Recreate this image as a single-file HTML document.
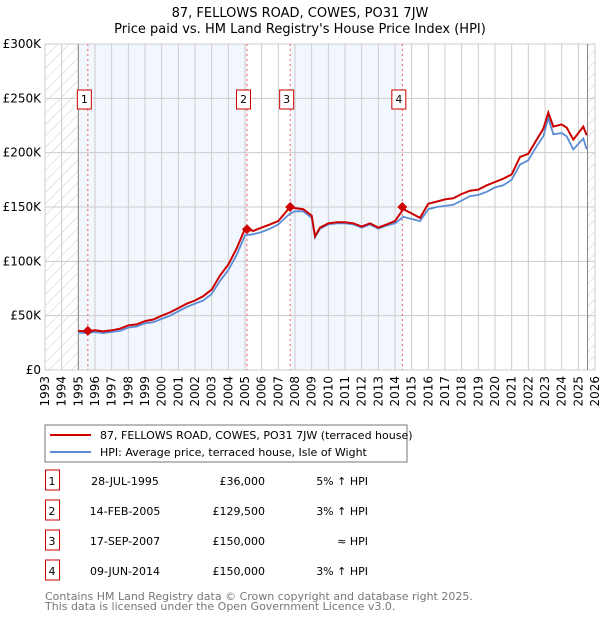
<!DOCTYPE html>
<html><head><meta charset="utf-8">
<style>
body{margin:0;background:#fff;font-family:"DejaVu Sans","Liberation Sans",sans-serif;}
svg text{font-family:"DejaVu Sans","Liberation Sans",sans-serif;}
</style></head>
<body>
<svg id="c" width="600" height="620" xmlns="http://www.w3.org/2000/svg">
<defs>
<pattern id="hatch" width="8" height="8" patternUnits="userSpaceOnUse" patternTransform="rotate(45)">
<line x1="0" y1="0" x2="0" y2="8" stroke="#ccc" stroke-width="1"/>
</pattern>
</defs>
<text x="300" y="17" text-anchor="middle" font-size="13" fill="#000">87, FELLOWS ROAD, COWES, PO31 7JW</text>
<text x="300" y="33" text-anchor="middle" font-size="13" fill="#000">Price paid vs. HM Land Registry's House Price Index (HPI)</text>
<g id="plot"></g>
<rect x="45" y="425" width="362" height="37" fill="#fff" stroke="#777"/>
<line x1="50" y1="435" x2="91" y2="435" stroke="#cc0000" stroke-width="2"/>
<text x="100" y="439" font-size="11">87, FELLOWS ROAD, COWES, PO31 7JW (terraced house)</text>
<line x1="50" y1="452" x2="91" y2="452" stroke="#5b8dd6" stroke-width="2"/>
<text x="100" y="456" font-size="11">HPI: Average price, terraced house, Isle of Wight</text>
<g id="table" font-size="11"></g>
<text x="45" y="600" font-size="11" fill="#777">Contains HM Land Registry data © Crown copyright and database right 2025.</text>
<text x="45" y="610" font-size="11" fill="#777">This data is licensed under the Open Government Licence v3.0.</text>
</svg>
<script>
const hpiYears=[1995,1995.5,1996,1996.5,1997,1997.5,1998,1998.5,1999,1999.5,2000,2000.5,2001,2001.5,2002,2002.5,2003,2003.5,2004,2004.5,2005,2005.5,2006,2006.5,2007,2007.7,2008,2008.5,2009,2009.2,2009.5,2010,2010.5,2011,2011.5,2012,2012.5,2013,2013.5,2014,2014.5,2015,2015.5,2016,2016.5,2017,2017.5,2018,2018.5,2019,2019.5,2020,2020.5,2021,2021.5,2022,2022.5,2022.9,2023.2,2023.5,2024,2024.3,2024.7,2025,2025.3,2025.5];
const hpiValues=[34.5,34,35,34,35,36,39,40,43,44,47,50,54,58,61,64,70,82,92,106,124,125,127,130,134,144,146,146,140,122,130,134,135,135,134,131,134,130,133,135,141,139,137,148,150,151,152,156,160,161,164,168,170,175,189,193,206,215,232,217,218,215,203,208,213,203,208];
const ppValues=[36,35.5,36.5,35.5,36.5,38,41,42,45,46.5,50,53,57,61,64,68,74,87,97,112,130,128,131,134,137,150,149,148,142,123,131,135,136,136,135,132,135,131,134,137,148,144,140,153,155,157,158,162,165,166,170,173,176,180,196,199,212,222,237,224,226,223,212,218,224,216,221];
const saleYears=[1995.57,2005.12,2007.71,2014.44];
const salePrices=[36,129.5,150,150];
const saleLabels=["1","2","3","4"];
const saleDates=["28-JUL-1995","14-FEB-2005","17-SEP-2007","09-JUN-2014"];
const salePriceText=["£36,000","£129,500","£150,000","£150,000"];
const saleHpiText=["5% ↑ HPI","3% ↑ HPI","≈ HPI","3% ↑ HPI"];
const yTicks=[0,50,100,150,200,250,300];
const yTickLabels=["£0","£50K","£100K","£150K","£200K","£250K","£300K"];

const NS="http://www.w3.org/2000/svg";
const X0=45,X1=595,Y0=370,Y1=44,T0=1993,T1=2026,VMAX=300;
const xs=t=>X0+(t-T0)/(T1-T0)*(X1-X0);
const ys=v=>Y0-v/VMAX*(Y0-Y1);
const plot=document.getElementById('plot');
function mk(tag,attrs,parent){const e=document.createElementNS(NS,tag);for(const k in attrs)e.setAttribute(k,attrs[k]);(parent||plot).appendChild(e);return e;}

for(let i=0;i<2;i++){
  const a=i==0?1995:saleYears[2], b=i==0?saleYears[1]:saleYears[3];
  const r=mk('rect',{x:xs(a),y:Y1,width:xs(b)-xs(a),height:Y0-Y1,fill:'#f2f6fd'});
  
  
}
const h1=mk('rect',{x:X0,y:Y1,width:xs(1995)-X0,height:Y0-Y1,fill:'url(#hatch)'});


const h2=mk('rect',{x:xs(2025.55),y:Y1,width:X1-xs(2025.55),height:Y0-Y1,fill:'url(#hatch)'});


for(let y=T0;y<=T1;y++){
  const l=mk('line',{x1:xs(y),x2:xs(y),y1:Y1,y2:Y0,stroke:'#ccc','stroke-width':1});
  
  
  const t=mk('text',{x:0,y:0,'font-size':12,'text-anchor':'end',transform:`translate(${xs(y)+4},${Y0+6}) rotate(-90)`});
  t.textContent=y;
  
  
}
yTicks.forEach((v,i)=>{
  const l=mk('line',{x1:X0,x2:X1,y1:ys(v),y2:ys(v),stroke:'#ccc','stroke-width':1});
  
  
  const t=mk('text',{x:X0-4,y:ys(v)+4,'font-size':12,'text-anchor':'end'});
  t.textContent=yTickLabels[i];
  
  
});
[1995,2025.55].forEach(t=>{
  const l=mk('line',{x1:xs(t),x2:xs(t),y1:Y1,y2:Y0,stroke:'#888','stroke-width':1});
  
  
});
saleYears.forEach((t,i)=>{
  const l=mk('line',{x1:xs(t),x2:xs(t),y1:Y1,y2:Y0,stroke:'#f06060','stroke-width':1,'stroke-dasharray':'2,3'});
  
  
});
const pts=a=>hpiYears.map((t,i)=>xs(t).toFixed(1)+','+ys(a[i]).toFixed(1)).join(' ');
const hl=mk('polyline',{points:pts(hpiValues),fill:'none',stroke:'#5b8dd6','stroke-width':1.8});


const pl=mk('polyline',{points:pts(ppValues),fill:'none',stroke:'#cc0000','stroke-width':2});


saleYears.forEach((t,i)=>{
  const cx=xs(t),cy=ys(salePrices[i]);
  const d=mk('polygon',{points:`${cx},${cy-5} ${cx+5},${cy} ${cx},${cy+5} ${cx-5},${cy}`,fill:'#cc0000'});
  
  
  const r=mk('rect',{x:cx-10.5,y:90,width:14,height:19,fill:'#fff',stroke:'#cc0000'});
  
  
  const tx=mk('text',{x:cx-3.5,y:103,'font-size':11,'text-anchor':'middle'});
  tx.textContent=saleLabels[i];
  
  
});
const tb=document.getElementById('table');
saleLabels.forEach((s,i)=>{
  const y=483+i*30;
  const r=mk('rect',{x:45.5,y:y-13,width:14,height:20,fill:'#fff',stroke:'#cc0000'},tb);
  
  
  const cells=[[52,s,'middle'],[125,saleDates[i],'middle'],[265,salePriceText[i],'end'],[368,saleHpiText[i],'end']];
  const names=['table-row-number','table-row-date','table-row-price','table-row-hpi'];
  cells.forEach((c,j)=>{
    const t=mk('text',{x:c[0],y:y+2,'text-anchor':c[2]},tb);
    t.textContent=c[1];
    
    
  });
});
</script>
</body></html>
